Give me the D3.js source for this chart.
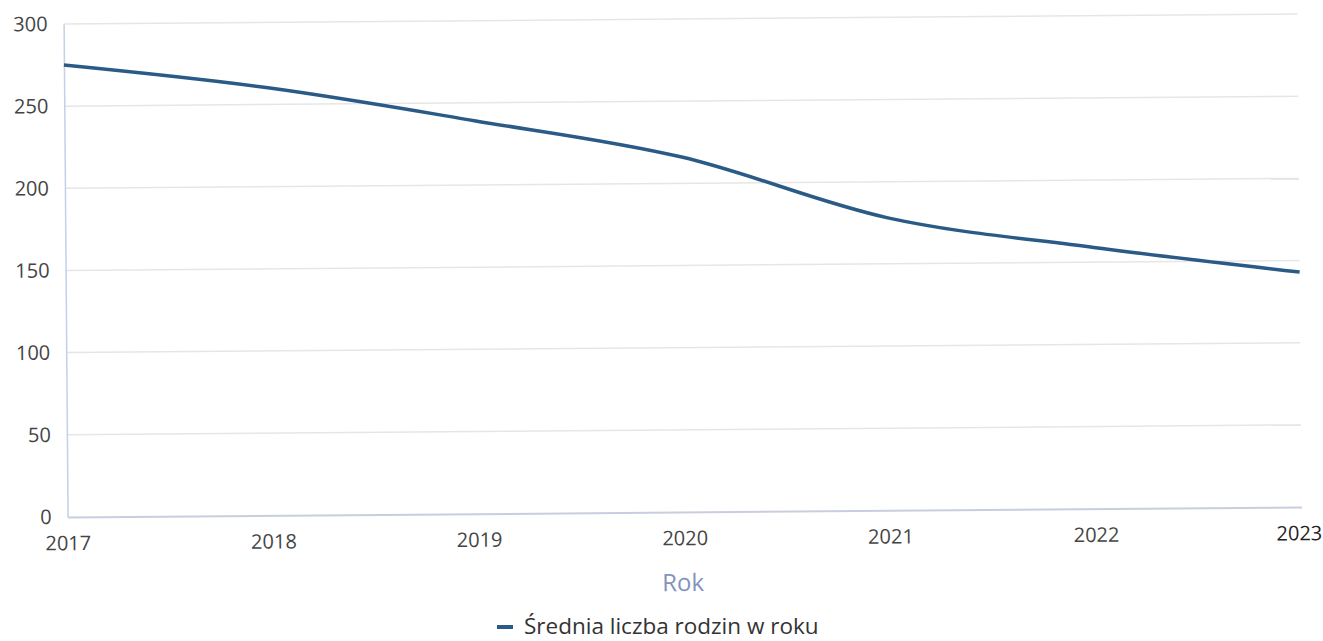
<!DOCTYPE html>
<html><head><meta charset="utf-8">
<script src="https://cdn.jsdelivr.net/npm/d3@7"></script>
<style>body{margin:0;background:#fff;} text{font-family:"Open Sans",sans-serif;}</style>
</head><body><svg id="c" width="1323" height="641"></svg>
<script>
const years = ["2017","2018","2019","2020","2021","2022","2023"];
const values = [275, 260, 239, 216, 178, 159, 143];
const yTicks = [0, 50, 100, 150, 200, 250, 300];
const seriesName = "Średnia liczba rodzin w roku";
const xTitle = "Rok";

const svg = d3.select("#c");
const m = {l: 66, r: 1300, t: 19, b: 512};
const x = d3.scalePoint().domain(years).range([m.l, m.r]);
const y = d3.scaleLinear().domain([0, 300]).range([m.b, m.t]);

// the source is a slightly tilted scan; reproduce the tilt
const g = svg.append("g").attr("transform", `rotate(-0.46, ${(m.l + m.r) / 2}, 320)`);
// gridlines
g.selectAll("line.grid").data(yTicks.filter(d => d > 0)).join("line")
  .attr("x1", m.l).attr("x2", m.r).attr("y1", d => y(d)).attr("y2", d => y(d))
  .attr("stroke", "#e6e6e6").attr("stroke-width", 1.5);
// y axis
const ya = g.append("g").attr("transform", `translate(${m.l},0)`)
  .call(d3.axisLeft(y).tickValues(yTicks).tickSize(0).tickPadding(16));
ya.select(".domain").attr("stroke", "#c3d0ea").attr("stroke-width", 1.5);
ya.selectAll("text").attr("font-size", 20).attr("fill", "#444");
// x axis
const xa = g.append("g").attr("transform", `translate(0,${m.b})`)
  .call(d3.axisBottom(x).tickSize(0).tickPadding(19));
xa.select(".domain").attr("stroke", "#c9cde0").attr("stroke-width", 2);
xa.selectAll("text").attr("font-size", 20).attr("fill", "#444");
// last label kept inside the canvas, as in the source
xa.selectAll(".tick").filter(d => d === years[years.length - 1]).select("text")
  .attr("text-anchor", "end").attr("x", 20).attr("fill", "#222");
// axis title
g.append("text").attr("x", (m.l + m.r) / 2 - 2).attr("y", 591).attr("text-anchor", "middle")
  .attr("font-size", 24).attr("fill", "#8393bd").text(xTitle);
// line
const line = d3.line().x((d, i) => x(years[i])).y(d => y(d)).curve(d3.curveMonotoneX);
g.append("path").datum(values).attr("d", line).attr("fill", "none")
  .attr("stroke", "#2a5b86").attr("stroke-width", 3.5).attr("stroke-linejoin", "round");
// legend
const lg = svg.append("g").attr("transform", "translate(497,634)");
lg.append("line").attr("x1", 0).attr("x2", 16).attr("y1", -7).attr("y2", -7)
  .attr("stroke", "#2a5b86").attr("stroke-width", 4);
lg.append("text").attr("x", 27).attr("y", 0).attr("font-size", 22.5).attr("fill", "#333").text(seriesName);
</script></body></html>
